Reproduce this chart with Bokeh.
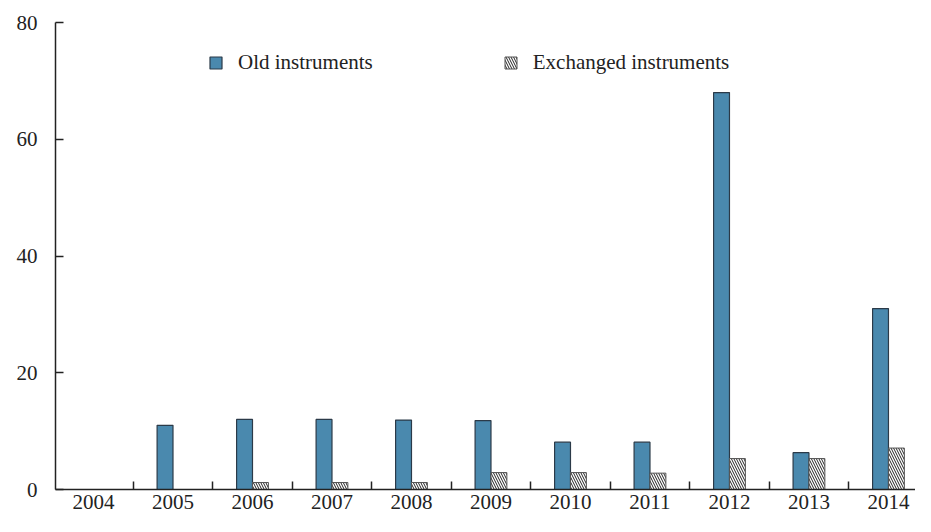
from bokeh.plotting import figure
from bokeh.models import Range1d, FixedTicker, Legend, LegendItem
from bokeh.embed import file_html
from bokeh.resources import INLINE

years = ["2004", "2005", "2006", "2007", "2008", "2009", "2010", "2011", "2012", "2013", "2014"]
old_instruments = [0, 11.0, 12.0, 12.0, 11.9, 11.8, 8.1, 8.1, 68.0, 6.3, 31.0]
exchanged_instruments = [0, 0, 1.2, 1.2, 1.2, 2.9, 2.9, 2.8, 5.3, 5.3, 7.1]
y_ticks = [0, 20, 40, 60, 80]

FONT = "Liberation Serif"
BLUE = "#4a89ae"
EDGE = "#2b3a48"

idx = list(range(len(years)))
x_old = [i - 0.1 for i in idx]
x_exc = [i + 0.1 for i in idx]

p = figure(width=915, height=516, output_backend="svg", toolbar_location=None,
           x_range=Range1d(-0.478, 10.34), y_range=Range1d(0, 80),
           min_border_left=55, min_border_right=0, min_border_top=22, min_border_bottom=27)
p.outline_line_color = None
p.grid.visible = False
p.background_fill_color = "white"

r_old = p.vbar(x=x_old, top=old_instruments, width=0.2, bottom=0,
               fill_color=BLUE, line_color=EDGE, line_width=1.2)
nonzero = [i for i in idx if exchanged_instruments[i] > 0]
r_exc = p.vbar(x=[x_exc[i] for i in nonzero], top=[exchanged_instruments[i] for i in nonzero],
               width=0.2, bottom=0, fill_color="white", line_color="#555555", line_width=1,
               hatch_pattern="\\", hatch_color="#222222", hatch_scale=5, hatch_weight=1)

# x axis
xa = p.xaxis[0]
xa.ticker = FixedTicker(ticks=idx, minor_ticks=[i + 0.5 for i in idx[:-1]])
xa.major_label_overrides = {i: y for i, y in enumerate(years)}
xa.major_tick_line_color = None
xa.major_tick_in = 0
xa.major_tick_out = 0
xa.minor_tick_in = 8
xa.minor_tick_out = 0
xa.minor_tick_line_color = "#222222"
xa.minor_tick_line_width = 1.5
xa.axis_line_color = "#222222"
xa.axis_line_width = 1.5
xa.major_label_text_font = FONT
xa.major_label_text_font_size = "21px"
xa.major_label_text_color = "#222222"
xa.major_label_standoff = 5

# y axis
ya = p.yaxis[0]
ya.ticker = FixedTicker(ticks=y_ticks)
ya.major_tick_in = 8
ya.major_tick_out = 0
ya.minor_tick_line_color = None
ya.major_tick_line_color = "#222222"
ya.major_tick_line_width = 1.5
ya.axis_line_color = "#222222"
ya.axis_line_width = 1.5
ya.major_label_text_font = FONT
ya.major_label_text_font_size = "21px"
ya.major_label_text_color = "#222222"
ya.major_label_standoff = 18

legend = Legend(items=[LegendItem(label="Old instruments", renderers=[r_old]),
                       LegendItem(label="Exchanged instruments", renderers=[r_exc])],
                orientation="horizontal", location=(153, 414),
                glyph_width=15, glyph_height=15, label_height=15, label_width=20,
                label_standoff=15, spacing=130, padding=0, margin=0,
                border_line_color=None, background_fill_alpha=0,
                label_text_font=FONT, label_text_font_size="21px",
                label_text_color="#222222")
p.add_layout(legend, "center")

open("out.html", "w").write(file_html(p, INLINE))
